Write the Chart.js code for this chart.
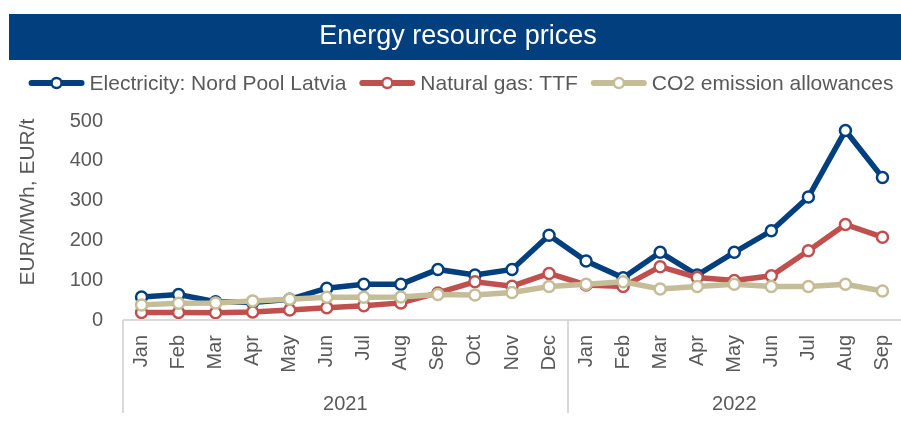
<!DOCTYPE html>
<html><head><meta charset="utf-8">
<script src="https://cdn.jsdelivr.net/npm/chart.js@4/dist/chart.umd.min.js"></script>
<style>html,body{margin:0;padding:0;background:#fff}#wrap{width:901px;height:423px;position:relative}canvas{display:block}</style>
</head><body><div id="wrap"><canvas id="c" width="901" height="423"></canvas></div>
<script>
const months = ['Jan','Feb','Mar','Apr','May','Jun','Jul','Aug','Sep','Oct','Nov','Dec','Jan','Feb','Mar','Apr','May','Jun','Jul','Aug','Sep'];
const years = ['2021','2022'];
const monthsPerYear = [12, 9];
const electricity = [58, 64, 46, 44, 52, 80, 90, 90, 127, 113, 127, 213, 148, 106, 170, 113, 170, 224, 309, 476, 358];
const gas = [19, 19, 18, 20, 25, 31, 36, 43, 68, 96, 85, 117, 88, 84, 134, 107, 99, 111, 174, 240, 208];
const co2 = [38, 42, 43, 48, 52, 57, 57, 58, 64, 63, 69, 84, 90, 96, 78, 84, 90, 84, 84, 90, 73];
const seriesNames = ['Electricity: Nord Pool Latvia', 'Natural gas: TTF', 'CO2 emission allowances'];
const titleText = 'Energy resource prices';
const yAxisTitle = 'EUR/MWh, EUR/t';

const FONT = '"Liberation Sans", Arial, sans-serif';
const GREY = '#595959';
const AXIS = '#D9D9D9';
const colors = ['#023F7E', '#C0504D', '#C4BD97'];

const decor = {
  id: 'decor',
  beforeDraw(chart) {
    const ctx = chart.ctx;
    ctx.save();
    ctx.fillStyle = '#023F7E';
    ctx.fillRect(9, 14, 892, 46);
    ctx.fillStyle = '#ffffff';
    ctx.font = '27px ' + FONT;
    ctx.textAlign = 'center';
    ctx.textBaseline = 'middle';
    ctx.fillText(titleText, 458, 37);
    ctx.restore();
  },
  afterDraw(chart) {
    const ctx = chart.ctx;
    const area = chart.chartArea;
    const xs = chart.scales.x;
    ctx.save();
    // legend
    ctx.font = '21px ' + FONT;
    ctx.textBaseline = 'middle';
    ctx.textAlign = 'left';
    const lineW = 56, gapT = 5, gapI = 13;
    const widths = seriesNames.map(n => ctx.measureText(n).width);
    let total = widths.reduce((a, b) => a + b, 0) + seriesNames.length * (lineW + gapT) + (seriesNames.length - 1) * gapI;
    let x = 461 - total / 2;
    const ly = 83;
    seriesNames.forEach((n, i) => {
      ctx.strokeStyle = colors[i];
      ctx.lineWidth = 6;
      ctx.lineCap = 'round';
      ctx.beginPath(); ctx.moveTo(x + 3, ly); ctx.lineTo(x + lineW - 3, ly); ctx.stroke();
      ctx.beginPath(); ctx.arc(x + lineW / 2, ly, 5, 0, Math.PI * 2);
      ctx.fillStyle = '#fff'; ctx.fill();
      ctx.lineWidth = 2.5; ctx.stroke();
      ctx.fillStyle = GREY;
      ctx.fillText(n, x + lineW + gapT, ly + 1);
      x += lineW + gapT + widths[i] + gapI;
    });
    // y axis title
    ctx.save();
    ctx.translate(28, 202);
    ctx.rotate(-Math.PI / 2);
    ctx.font = '21px ' + FONT;
    ctx.textAlign = 'center';
    ctx.fillStyle = GREY;
    ctx.fillText(yAxisTitle, 0, 0);
    ctx.restore();
    // x axis line
    ctx.strokeStyle = AXIS;
    ctx.lineWidth = 2;
    ctx.lineCap = 'butt';
    ctx.beginPath(); ctx.moveTo(area.left, area.bottom); ctx.lineTo(area.right, area.bottom); ctx.stroke();
    // year separators & labels
    const half = (xs.getPixelForValue(1) - xs.getPixelForValue(0)) / 2;
    let start = 0;
    ctx.font = '20px ' + FONT;
    ctx.textAlign = 'center';
    ctx.fillStyle = GREY;
    years.forEach((yl, i) => {
      const end = start + monthsPerYear[i];
      const x0 = xs.getPixelForValue(start) - half;
      const x1 = xs.getPixelForValue(end - 1) + half;
      if (x0 < area.right - 2) {
        ctx.beginPath(); ctx.moveTo(Math.round(x0), area.bottom); ctx.lineTo(Math.round(x0), 413); ctx.stroke();
      }
      ctx.fillText(yl, (x0 + x1) / 2, 404);
      start = end;
    });
    ctx.restore();
  }
};

function ds(label, data, i, order) {
  return {
    label, data,
    borderColor: colors[i],
    backgroundColor: colors[i],
    borderWidth: 5.5,
    pointRadius: 5.5,
    pointHoverRadius: 5.5,
    pointBorderWidth: 2.5,
    pointBackgroundColor: '#ffffff',
    pointBorderColor: colors[i],
    tension: 0,
    clip: false,
    order
  };
}

new Chart(document.getElementById('c'), {
  type: 'line',
  data: {
    labels: months,
    datasets: [
      ds(seriesNames[0], electricity, 0, 3),
      ds(seriesNames[1], gas, 1, 2),
      ds(seriesNames[2], co2, 2, 1)
    ]
  },
  options: {
    responsive: false,
    animation: false,
    devicePixelRatio: 1,
    layout: { autoPadding: false, padding: { top: 121, left: 0, right: 0, bottom: 0 } },
    plugins: { legend: { display: false }, title: { display: false }, tooltip: { enabled: false } },
    scales: {
      x: {
        offset: true,
        grid: { display: false, drawTicks: false },
        border: { display: false },
        ticks: { minRotation: 90, maxRotation: 90, padding: 15, color: GREY, font: { family: FONT, size: 20 }, autoSkip: false },
        afterFit(s) { s.height = 103; s.paddingLeft = 0; s.paddingRight = 0; }
      },
      y: {
        min: 0, max: 500,
        grid: { display: false, drawTicks: false },
        border: { display: false },
        ticks: { stepSize: 100, padding: 20, color: GREY, font: { family: FONT, size: 20 } },
        afterFit(s) { s.width = 123; s.paddingTop = 0; s.paddingBottom = 0; }
      }
    }
  },
  plugins: [decor]
});
</script>
</body></html>
